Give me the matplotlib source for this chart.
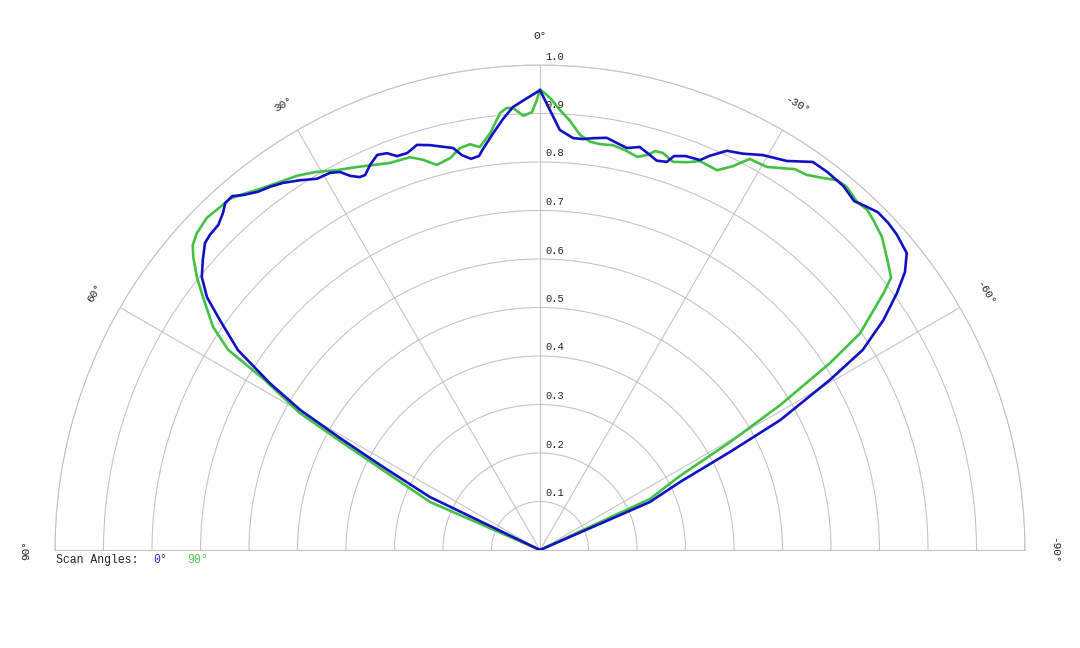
import numpy as np
import matplotlib
matplotlib.use("Agg")
import matplotlib.pyplot as plt
from matplotlib.transforms import offset_copy

plt.rcParams['font.family'] = ['Liberation Mono', 'DejaVu Sans Mono']

# scan angle 0 deg (blue), angles in degrees, positive to the left
blue_theta = [64.5, 64.3, 62.0, 60.75, 59.7, 58.3, 56.5, 54.3, 52.8, 51.1, 49.3, 47.5, 46.3,
              44.7, 43.25, 42.2, 41.0, 39.9, 38.2, 36.6, 35.0, 33.0, 31.0, 29.1, 27.9, 26.9,
              25.8, 25.0, 23.8, 22.4, 21.1, 19.95, 18.5, 16.9, 15.2, 13.5, 12.2, 11.2, 10.0,
              8.8, 8.1, 6.4, 4.9, 3.5, 1.65, 0.0, -1.3, -2.7, -4.6, -6.0, -7.3, -9.2, -10.7,
              -12.2, -13.9, -15.6, -16.7, -18.1, -18.8, -20.3, -22.3, -23.3, -25.1, -27.1,
              -29.45, -32.4, -35.1, -37.2, -39.8, -42.0, -43.4, -45.0, -46.8, -48.5, -51.0,
              -52.7, -54.25, -56.2, -58.2, -59.6, -61.6, -62.7, -64.1, -66.4, -67.0]
blue_r = [0.0, 0.252, 0.374, 0.473, 0.573, 0.655, 0.747, 0.813, 0.862, 0.896, 0.917, 0.937, 0.941,
          0.943, 0.954, 0.966, 0.967, 0.954, 0.940, 0.933, 0.924, 0.909, 0.893, 0.890, 0.882, 0.865,
          0.854, 0.853, 0.868, 0.881, 0.877, 0.864, 0.863, 0.873, 0.865, 0.855, 0.848, 0.830, 0.819,
          0.822, 0.835, 0.865, 0.892, 0.915, 0.932, 0.948, 0.907, 0.867, 0.852, 0.852, 0.856, 0.861, 0.854,
          0.848, 0.856, 0.845, 0.838, 0.842, 0.858, 0.866, 0.869, 0.885, 0.909, 0.918,
          0.935, 0.950, 0.978, 0.979, 0.977, 0.968, 0.976, 0.985, 0.985, 0.982, 0.973,
          0.946, 0.907, 0.852, 0.783, 0.693, 0.563, 0.441, 0.321, 0.247, 0.0]

# scan angle 90 deg (green)
green_theta = [66.5, 66.4, 62.9, 61.4, 60.3, 58.3, 57.3, 55.7, 53.1, 51.5, 49.8, 48.7, 47.3, 45.1,
               43.0, 41.45, 39.9, 37.4, 35.2, 33.0, 30.8, 28.1, 25.5, 21.2, 18.3, 16.7, 15.0,
               12.9, 11.25, 9.8, 8.5, 6.8, 5.2, 4.3, 3.5, 2.2, 1.05, 0.4, 0.0, -1.3, -2.6, -4.0,
               -5.5, -7.0, -8.4, -10.2, -12.0, -13.9, -15.2, -16.1, -17.2, -18.9, -20.75, -22.35,
               -25.0, -26.7, -28.2, -30.65, -33.8, -35.4, -37.3, -38.75, -40.2, -42.3, -43.9,
               -45.3, -47.5, -49.8, -51.0, -52.2, -53.2, -55.9, -57.2, -58.9, -60.4, -62.1,
               -65.1, -66.0]
green_r = [0.0, 0.247, 0.371, 0.470, 0.570, 0.667, 0.764, 0.816, 0.869, 0.904, 0.936, 0.953, 0.963, 0.970,
           0.967, 0.966, 0.956, 0.940, 0.929, 0.920, 0.907, 0.888, 0.875, 0.856, 0.853, 0.840, 0.822,
           0.829, 0.845, 0.849, 0.840, 0.866, 0.905, 0.914, 0.913, 0.896, 0.903, 0.928, 0.950, 0.932, 0.908, 0.887,
           0.860, 0.848, 0.846, 0.848, 0.843, 0.835, 0.844, 0.856, 0.857, 0.846, 0.855, 0.867,
           0.864, 0.886, 0.915, 0.918, 0.945, 0.949, 0.964, 0.978, 0.980, 0.971, 0.973,
           0.967, 0.956, 0.936, 0.926, 0.916, 0.885, 0.797, 0.711, 0.578, 0.451, 0.327,
           0.250, 0.0]

angle_ticks = [-90, -60, -30, 0, 30, 60, 90]
radial_ticks = [0.1, 0.2, 0.3, 0.4, 0.5, 0.6, 0.7, 0.8, 0.9, 1.0]

GRID = '#c2c2c2'
BLUE = '#1111c4'
GREEN = '#44c044'

fig = plt.figure(figsize=(10.8, 6.48), dpi=100)
# polar axes keeps a square box; the half disk sits in its vertical middle
ax = fig.add_axes([55 / 1080, 1 - 792.5 / 648, 970 / 1080, 970 / 648], projection='polar')
ax.set_theta_zero_location('N')
ax.set_theta_direction(1)
ax.set_thetamin(-90)
ax.set_thetamax(90)
ax.set_rlim(0, 1.0)

ax.set_thetagrids(angle_ticks, labels=[''] * len(angle_ticks))
ax.set_rgrids(radial_ticks, labels=[''] * len(radial_ticks))
ax.grid(True, color=GRID, linewidth=0.75)
for sp in ax.spines.values():
    sp.set_color(GRID)
    sp.set_linewidth(0.75)
ax.tick_params(length=0)

ax.plot(np.deg2rad(green_theta), green_r, color=GREEN, lw=1.9, zorder=3)
ax.plot(np.deg2rad(blue_theta), blue_r, color=BLUE, lw=1.9, zorder=4)

# angle labels outside the arc
for t in angle_ticks:
    ax.text(np.deg2rad(t), 1.06, f"{t}°", rotation=t, rotation_mode='anchor',
            ha='center', va='center', fontsize=8, color='#222222', clip_on=False)

# radial labels next to the 0 deg line
tr = offset_copy(ax.transData, fig=fig, x=5, y=8.5, units='dots')
for r in radial_ticks:
    ax.text(0, r, f"{r:.1f}", transform=tr, ha='left', va='center',
            fontsize=7.5, color='#222222', zorder=5)

# legend line under the plot
fig.text(56 / 1080, 1 - 560 / 648, "Scan Angles:", ha='left', va='center', fontsize=8.3, color='#222222')
fig.text(153 / 1080, 1 - 560 / 648, "0°", ha='left', va='center', fontsize=8.3, color='#3333bb')
fig.text(187 / 1080, 1 - 560 / 648, "90°", ha='left', va='center', fontsize=8.3, color='#55c055')

fig.savefig('out.png', dpi=100, facecolor='white')
